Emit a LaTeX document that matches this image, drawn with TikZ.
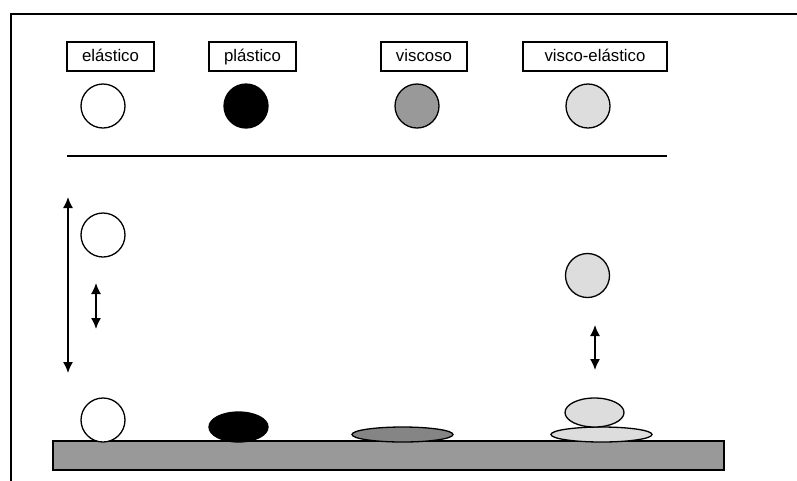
\documentclass[tikz,border=0pt]{standalone}
\usepackage{fontspec}
\setmainfont{Liberation Sans}
\usetikzlibrary{shapes.geometric,arrows.meta}
\definecolor{midgray}{HTML}{999999}
\definecolor{darkgray2}{HTML}{858585}
\definecolor{lightgray2}{HTML}{DDDDDD}
\begin{document}
\begin{tikzpicture}[x=1pt,y=-1pt,
  lbl/.style={draw,line width=1.2pt,minimum height=29pt,inner sep=0pt,text height=12.5pt,text depth=3.5pt,font=\fontsize{16.8}{19}\selectfont},
  ball/.style={circle,draw,line width=1.3pt,minimum size=44pt,inner sep=0pt},
  blob/.style={ellipse,draw,line width=1.3pt,inner sep=0pt},
  dbl/.style={line width=1.5pt,{Latex[length=11pt,width=10pt]}-{Latex[length=11pt,width=10pt]}}]
\useasboundingbox (0,0) rectangle (797,480);
% frame (cut off at right and bottom)
\draw[line width=1.6pt] (11,490) -- (11,14) -- (810,14);
% labels
\node[lbl,minimum width=87pt] (l1) at (110.5,56.5) {elástico};
\node[lbl,minimum width=87pt] (l2) at (252.5,56.5) {plástico};
\node[lbl,minimum width=86pt] (l3) at (424,56.5) {viscoso};
\node[lbl,minimum width=144pt] (l4) at (595,56.5) {visco-elástico};
% top balls
\node[ball,fill=white] (b1) at (103,106) {};
\node[ball,fill=black] (b2) at (246,106) {};
\node[ball,fill=midgray] (b3) at (417,106) {};
\node[ball,fill=lightgray2] (b4) at (588,106) {};
% separator
\coordinate (s1) at (67,156);
\coordinate (s2) at (667,156);
\draw[line width=1.3pt] (s1) -- (s2);
% base
\node[draw,line width=1.3pt,fill=midgray,minimum width=671pt,minimum height=29pt,inner sep=0pt] (base) at (388.5,455.5) {};
% elastic
\node[ball,fill=white] (e1) at (103,235) {};
\node[ball,fill=white] (e2) at (103,420) {};
\coordinate (a1t) at (68,197);
\coordinate (a1b) at (68,373);
\draw[dbl] (a1t) -- (a1b);
\coordinate (a2t) at (96,283);
\coordinate (a2b) at (96,329);
\draw[dbl] (a2t) -- (a2b);
% plastic
\node[blob,fill=black,minimum width=59pt,minimum height=30pt] (p1) at (238.5,427) {};
% viscous
\node[blob,fill=darkgray2,minimum width=101pt,minimum height=15pt] (v1) at (402.5,434.5) {};
% visco-elastic
\node[ball,fill=lightgray2] (ve1) at (587.5,275.5) {};
\coordinate (a3t) at (595,325);
\coordinate (a3b) at (595,370);
\draw[dbl] (a3t) -- (a3b);
\node[blob,fill=lightgray2,minimum width=101pt,minimum height=15pt] (ve3) at (601.5,434.5) {};
\node[blob,fill=lightgray2,minimum width=59pt,minimum height=29pt] (ve2) at (594.5,412.5) {};
\end{tikzpicture}
\end{document}
